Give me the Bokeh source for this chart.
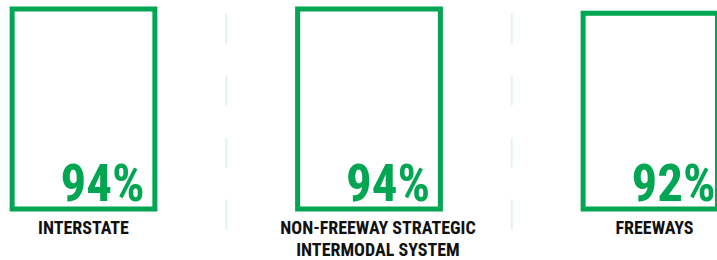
from bokeh.plotting import figure
from bokeh.models import Range1d, ColumnDataSource
from bokeh.core.properties import value
from bokeh.embed import file_html
from bokeh.resources import INLINE

categories = ["INTERSTATE", "NON-FREEWAY STRATEGIC\nINTERMODAL SYSTEM", "FREEWAYS"]
values = [94, 94, 92]
value_labels = ["94%", "94%", "92%"]

GREEN = "#00a651"
W, H = 717, 260
PX_PER_CAT = 285.5
PX_PER_PCT = 200 / 94
xs = list(range(len(categories)))

src = ColumnDataSource(dict(x=xs, top=values, lab=value_labels, cat=categories))
label_dx = [0, 9, 0]  # small horizontal nudge of category labels (px)
src.data["dx"] = label_dx

x0 = -83 / PX_PER_CAT
y0 = -51.5 / PX_PER_PCT
p = figure(width=W, height=H, output_backend="svg", toolbar_location=None,
           x_range=Range1d(x0, x0 + W / PX_PER_CAT),
           y_range=Range1d(y0, y0 + H / PX_PER_PCT),
           min_border=0)
p.axis.visible = False
p.grid.visible = False
p.outline_line_color = None
p.background_fill_color = "white"
p.border_fill_color = "white"

# dashed separators between categories
seps = [i + 0.5 for i in xs[:-1]]
p.segment(x0=seps, x1=seps, y0=[91.9] * len(seps), y1=[-10.1] * len(seps),
          line_color="#e2f2f0", line_width=2, line_dash="30 32")

p.vbar(x="x", top="top", bottom=0, width=0.5, source=src,
       fill_color=None, line_color=GREEN, line_width=5, line_join="miter")

FONT = value("Roboto Condensed, Liberation Sans Narrow, Roboto")

p.text(x="x", y=0, text="lab", source=src, x_offset=61, y_offset=-25.5,
       text_align="right", text_baseline="alphabetic",
       text_font=FONT, text_font_style="bold",
       text_font_size="51px", text_color=GREEN)

p.text(x="x", y=0, text="cat", source=src, x_offset="dx", y_offset=8,
       text_align="center", text_baseline="top", text_line_height=1.05,
       text_font=FONT, text_font_style="bold",
       text_font_size="18px", text_color="#111111")

open("out.html", "w").write(file_html(p, INLINE))
